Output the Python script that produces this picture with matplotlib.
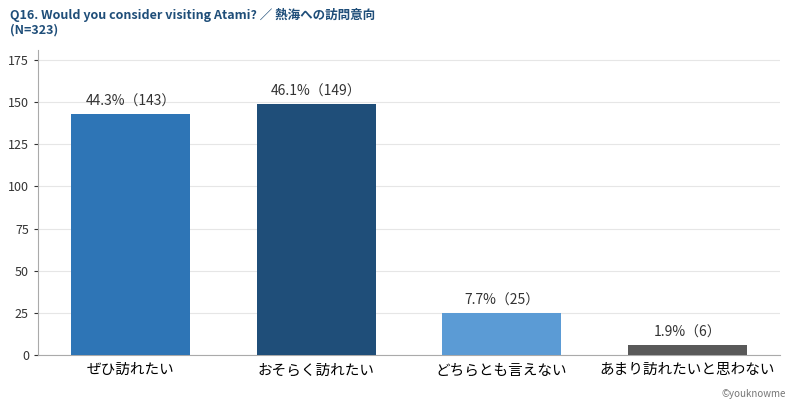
import matplotlib.pyplot as plt

plt.rcParams['font.family'] = ['Noto Sans CJK JP', 'DejaVu Sans']

categories = ['ぜひ訪れたい', 'おそらく訪れたい', 'どちらとも言えない', 'あまり訪れたいと思わない']
counts = [143, 149, 25, 6]
pcts = [44.3, 46.1, 7.7, 1.9]
colors = ['#2E75B6', '#1F4E79', '#5B9BD5', '#595959']

fig = plt.figure(figsize=(7.94, 4.05), dpi=100)
ax = fig.add_axes([38 / 794, 50 / 405, 742 / 794, 305 / 405])

x = range(len(categories))
ax.bar(x, counts, width=0.64, color=colors, zorder=3)
for i, (c, p) in enumerate(zip(counts, pcts)):
    ax.text(i, c + 3, f'{p}%（{c}）', ha='center', va='bottom', fontsize=10, color='#333333')

ax.set_xlim(-0.5, 3.5)
ax.set_ylim(0, 181)
ax.set_yticks(range(0, 176, 25))
ax.set_xticks(list(x))
ax.set_xticklabels(categories, fontsize=10.5)
ax.tick_params(axis='y', labelsize=9, colors='#333333', length=3)
ax.tick_params(axis='x', length=0, pad=6)
ax.grid(axis='y', color='#e6e6e6', linewidth=0.8, zorder=0)
for s in ['top', 'right']:
    ax.spines[s].set_visible(False)
for s in ['left', 'bottom']:
    ax.spines[s].set_color('#aaaaaa')

fig.text(10 / 794, 1 - 8 / 405, 'Q16. Would you consider visiting Atami? ／ 熱海への訪問意向\n(N=323)',
         ha='left', va='top', fontsize=9, fontweight='bold', color='#1F4E79', linespacing=1.2)
fig.text(1 - 8 / 794, 6 / 405, '©youknowme', ha='right', va='bottom', fontsize=7, color='#777777')

fig.savefig('out.png', dpi=100)
